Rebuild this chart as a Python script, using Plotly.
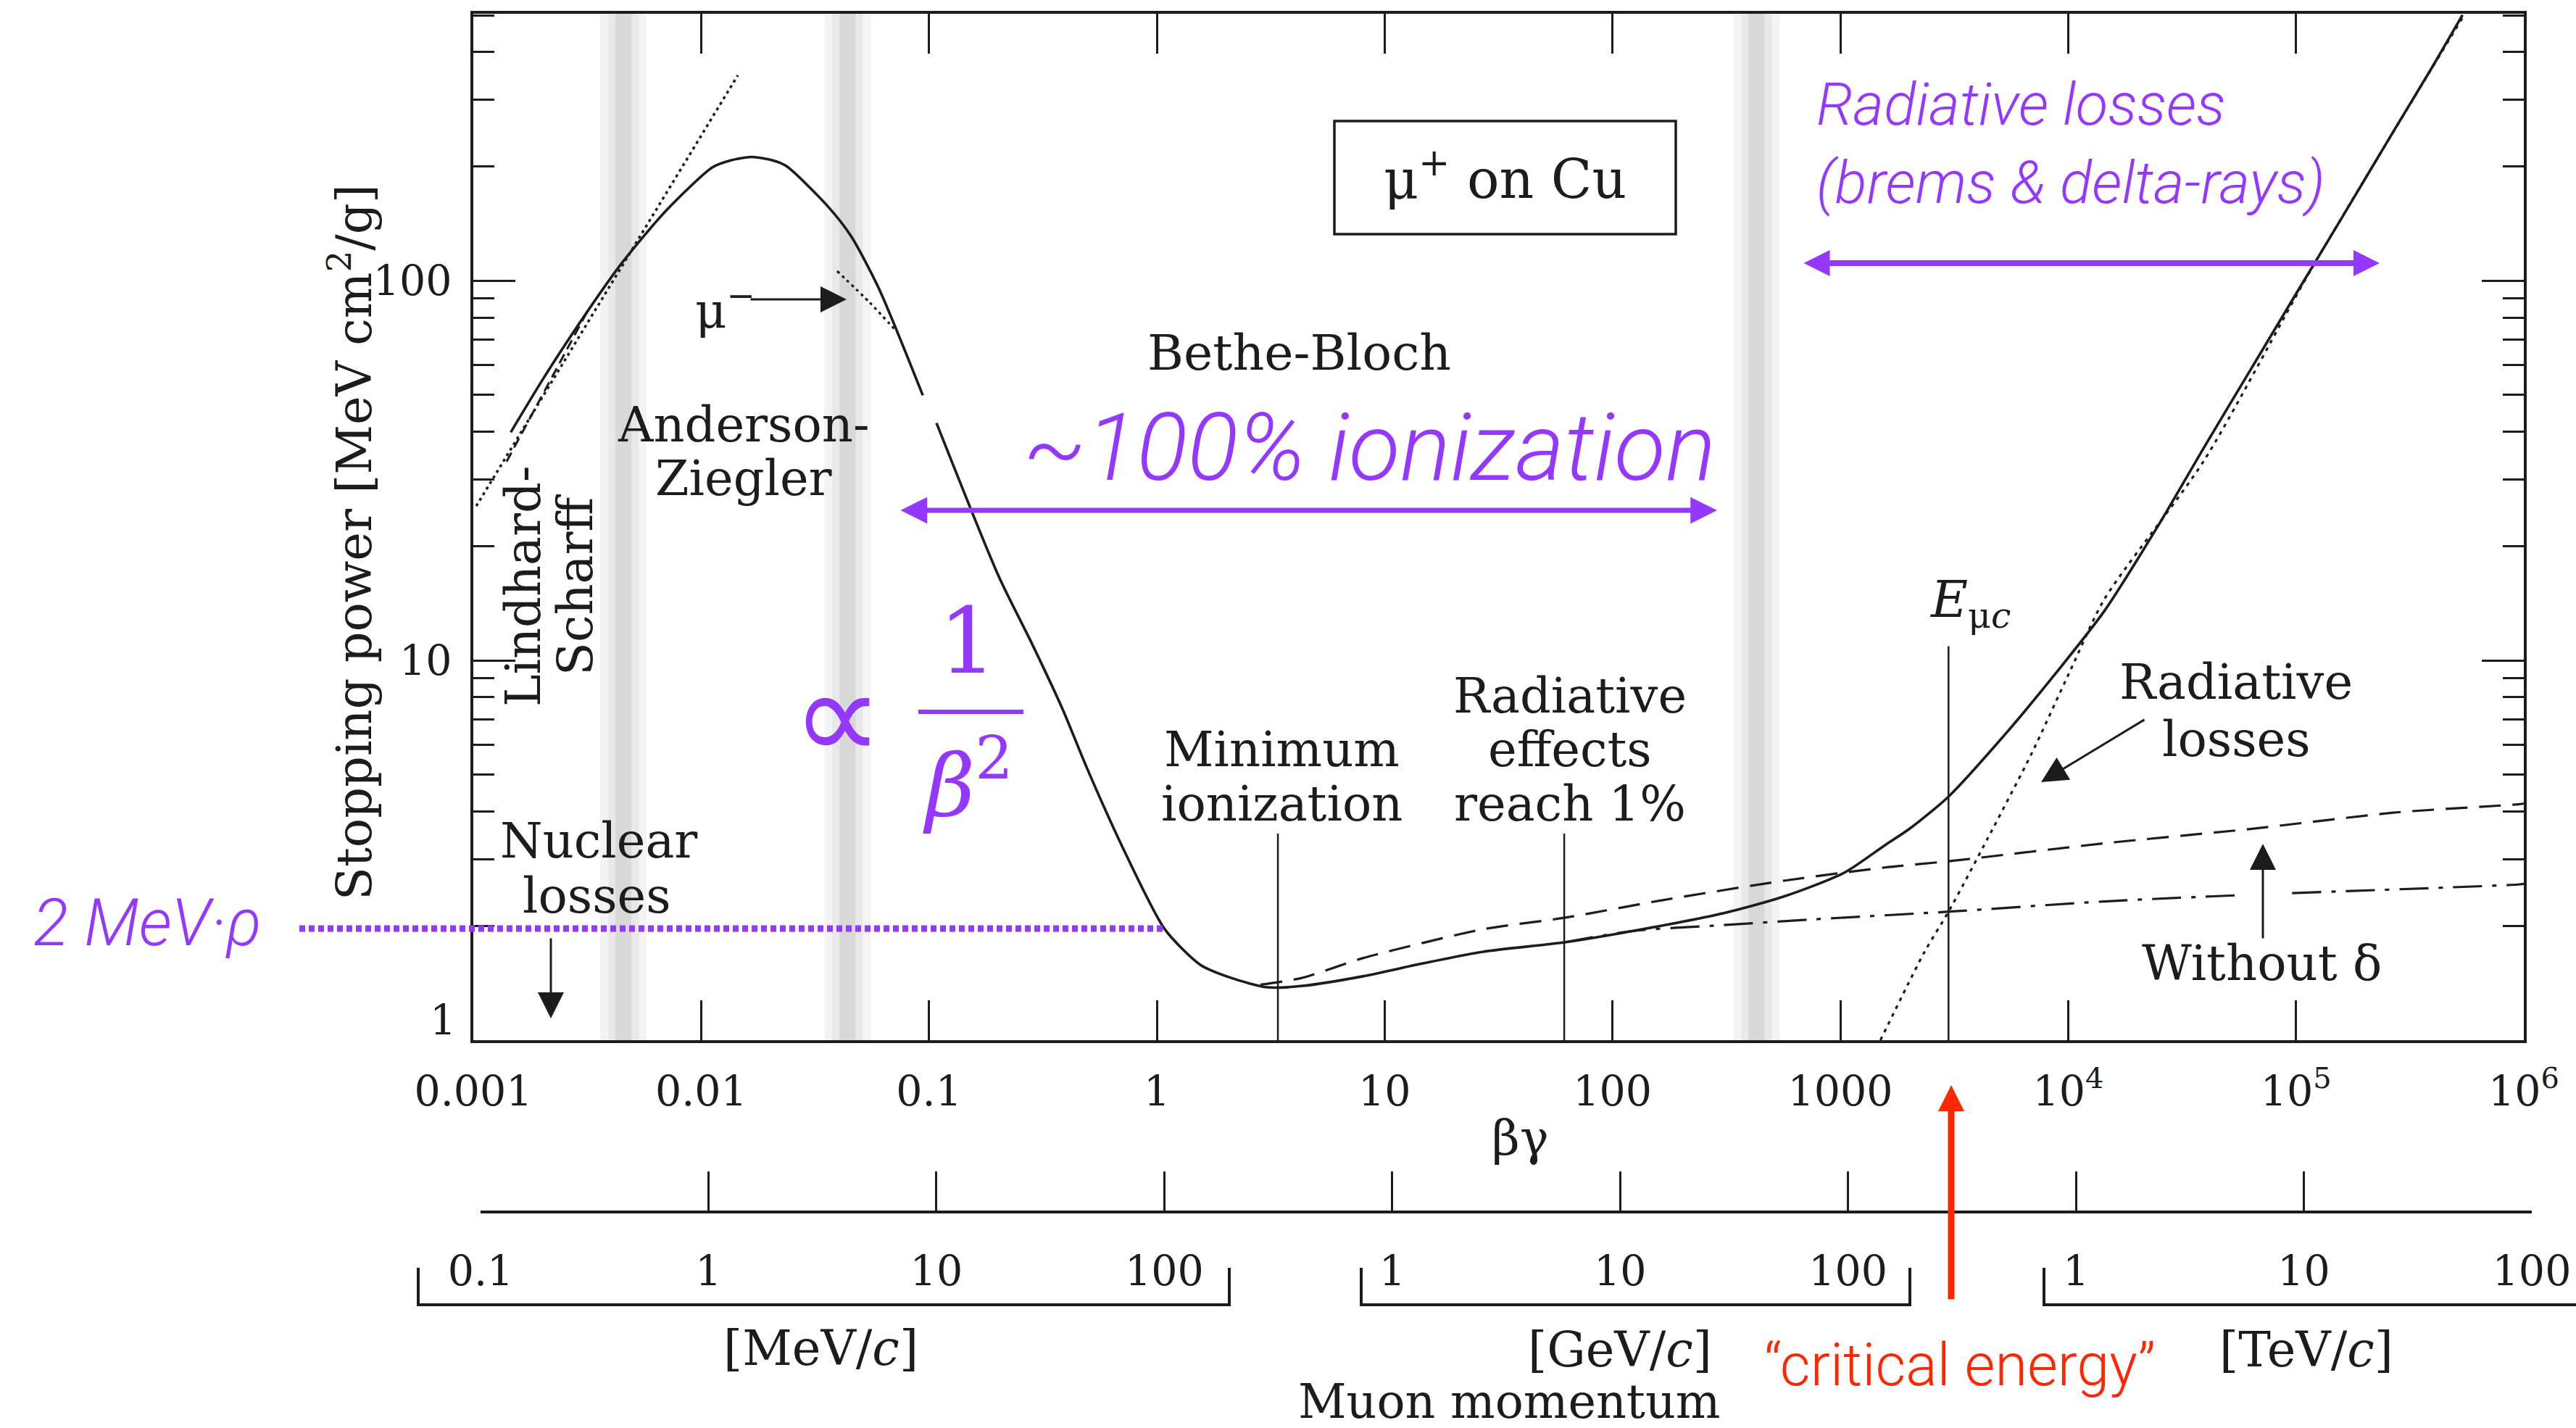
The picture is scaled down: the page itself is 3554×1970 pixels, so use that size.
import plotly.graph_objects as go

# ---------------- data ----------------
# total stopping power, Anderson-Ziegler branch (beta*gamma, MeV cm^2/g)
az_bg = [0.00146, 0.00200, 0.00275, 0.00440, 0.00702, 0.01122, 0.01349, 0.01667,
         0.02061, 0.02366, 0.03597, 0.04550, 0.06012, 0.09397]
az_s = [39.9, 54.5, 73.2, 109.6, 153, 199, 207.5, 211.8, 207.5, 200.4, 157, 131, 95.7, 49.9]

# total stopping power, Bethe-Bloch + radiative branch
bb_bg = [0.1079, 0.2028, 0.2838, 0.3864, 0.494, 0.7096, 1.084, 1.552, 2.113, 3.048, 4.365,
         8.017, 14.72, 27.04, 61.4, 123.3, 307.6, 565, 1040, 1567, 2009, 2985, 5395, 8831,
         14420, 25120, 39810, 63100, 100000, 158500, 251200, 398100, 538300]
bb_s = [42.2, 16.6, 11.04, 7.43, 5.2, 3.21, 1.96, 1.58, 1.46, 1.378, 1.39,
        1.473, 1.593, 1.71, 1.81, 1.94, 2.16, 2.39, 2.76, 3.26, 3.60, 4.38, 6.48, 9.26,
        13.5, 22.9, 36.7, 58.2, 92.3, 146, 232, 367, 501]

# ionization without density-effect correction (dashed)
nod_bg = [2.85, 4.365, 8.017, 27.04, 61.4, 167.5, 565, 1567, 2985, 14420, 63100, 276100, 944000, 1000000]
nod_s = [1.40, 1.46, 1.644, 1.96, 2.10, 2.34, 2.63, 2.85, 2.96, 3.30, 3.60, 3.98, 4.18, 4.20]

# ionization only (dash-dot)
ion_bg = [61.4, 123.3, 307.6, 753, 2985, 14420, 57150, None, 96150, 944000, 1000000]
ion_s = [1.81, 1.94, 2.01, 2.08, 2.18, 2.32, 2.41, None, 2.44, 2.57, 2.58]

# radiative losses (dotted)
rad_bg = [1500, 2344, 2985, 4436, 6887, 10230, 14420, 39360, 116400, 538300]
rad_s = [1.0, 1.71, 2.18, 3.40, 5.66, 9.42, 14.5, 33.5, 107, 493]

# Lindhard-Scharff (dotted), short low-energy dashed piece, mu- (dotted)
ls_bg = [0.00103, 0.01449]
ls_s = [25.5, 347.5]
lo_bg = [0.0014, 0.0032]
lo_s = [33.4, 84.0]
mum_bg = [0.03954, 0.05495, 0.07261]
mum_s = [106.0, 87.6, 73.2]

# vertical marker lines: minimum ionization, radiative 1%, critical energy
mark_bg = [3.40, 61.4, 2985]
mark_top = [3.50, 3.50, 10.9]

# grey transition bands
band_bg = [0.00456, 0.0439, 429]

# axes
bg_ticks = [0.001, 0.01, 0.1, 1, 10, 100, 1000, 1e4, 1e5, 1e6]
bg_labels = ["0.001", "0.01", "0.1", "1", "10", "100", "1000",
             "10<sup>4</sup>", "10<sup>5</sup>", "10<sup>6</sup>"]
y_ticks = [1, 10, 100]
y_labels = ["", "10", "100"]
y_minor = [2, 3, 4, 5, 6, 7, 8, 9, 20, 30, 40, 50, 60, 70, 80, 90, 200, 300, 400, 500]
p_ticks = [0.1, 1, 10, 100, 1e3, 1e4, 1e5, 1e6, 1e7, 1e8]   # MeV/c
p_labels = ["0.1", "1", "10", "100", "1", "10", "100", "1", "10", "100"]

# ---------------- layout geometry ----------------
W, H = 3554, 1970
ML, MR, MT, MB = 653, 61, 19, 0
PW = W - ML - MR
PH = H - MT - MB


def px(x):
    return (x - ML) / PW


def py(y):
    return (H - MB - y) / PH


INK = "#1c1c1c"
PURPLE = "#9437FF"
RED = "#FF2600"
SERIF = "DejaVu Serif"
SANS = "Roboto"
NUMSIZE = 57

fig = go.Figure()

# grey bands
for v in band_bg:
    for wdt, col in [(64, "#f3f3f3"), (42, "#e8e8e8"), (22, "#d8d8d8")]:
        fig.add_trace(go.Scatter(x=[v, v], y=[1, 520], mode="lines",
                                 line=dict(color=col, width=wdt), hoverinfo="skip"))

# vertical marker lines
for v, t in zip(mark_bg, mark_top):
    fig.add_trace(go.Scatter(x=[v, v], y=[1, t], mode="lines",
                             line=dict(color=INK, width=2.5), hoverinfo="skip"))

SM = dict(shape="spline", smoothing=0.7)

# curves
fig.add_trace(go.Scatter(x=ls_bg, y=ls_s, mode="lines",
                         line=dict(color=INK, width=3.5, dash="4px,5px")))
fig.add_trace(go.Scatter(x=lo_bg, y=lo_s, mode="lines",
                         line=dict(color=INK, width=3, dash="14px,8px")))
fig.add_trace(go.Scatter(x=mum_bg, y=mum_s, mode="lines",
                         line=dict(color=INK, width=3.2, dash="4px,5px", **SM)))
fig.add_trace(go.Scatter(x=nod_bg, y=nod_s, mode="lines",
                         line=dict(color=INK, width=3.2, dash="30px,16px", **SM)))
fig.add_trace(go.Scatter(x=ion_bg, y=ion_s, mode="lines", connectgaps=False,
                         line=dict(color=INK, width=3.2, dash="40px,14px,6px,14px", **SM)))
fig.add_trace(go.Scatter(x=rad_bg, y=rad_s, mode="lines",
                         line=dict(color=INK, width=3.2, dash="5px,7px", **SM)))
fig.add_trace(go.Scatter(x=az_bg, y=az_s, mode="lines",
                         line=dict(color=INK, width=3.6, **SM)))
fig.add_trace(go.Scatter(x=bb_bg, y=bb_s, mode="lines",
                         line=dict(color=INK, width=3.6, **SM)))

# dummy trace activating the momentum axis
fig.add_trace(go.Scatter(x=[1, 10], y=[1, 1], xaxis="x2", yaxis="y", mode="lines",
                         line=dict(width=0), opacity=0, hoverinfo="skip"))

axis_common = dict(showline=True, linewidth=4, linecolor=INK, showgrid=False,
                   zeroline=False, tickcolor=INK, tickwidth=3)
numfont = dict(family=SERIF, size=NUMSIZE, color=INK)

fig.update_layout(
    width=W, height=H,
    margin=dict(l=ML, r=MR, t=MT, b=MB, pad=0, autoexpand=False),
    paper_bgcolor="white", plot_bgcolor="rgba(0,0,0,0)",
    showlegend=False,
    xaxis=dict(type="log", range=[-3, 6], domain=[0, px(3482)], anchor="y",
               mirror="ticks", ticks="inside", ticklen=55,
               tickmode="array", tickvals=bg_ticks, ticktext=bg_labels,
               tickfont=numfont, ticklabelstandoff=18, **axis_common),
    yaxis=dict(type="log", range=[0, 2.703], domain=[py(1435), 1], anchor="x",
               mirror="ticks", ticks="inside", ticklen=58,
               tickmode="array", tickvals=y_ticks, ticktext=y_labels,
               tickfont=numfont, ticklabelstandoff=14,
               minor=dict(ticks="inside", ticklen=29, tickwidth=3, tickcolor=INK,
                          tickmode="array", tickvals=y_minor, showgrid=False),
               **axis_common),
    xaxis2=dict(type="log", range=[-1, 8], domain=[px(663), 1], anchor="free",
                position=py(1672), ticks="inside", ticklen=54,
                tickmode="array", tickvals=p_ticks, ticktext=p_labels,
                tickfont=numfont, ticklabelstandoff=31, **axis_common),
)


def txt(s, x, y, size, family=SERIF, color=INK, xanchor="center", angle=0,
        weight=None, style=None):
    f = dict(family=family, size=size, color=color)
    if weight is not None:
        f["weight"] = weight
    if style is not None:
        f["style"] = style
    return dict(text=s, x=px(x), y=py(y), xref="paper", yref="paper",
                xanchor=xanchor, yanchor="middle", showarrow=False, font=f,
                textangle=angle, borderpad=0)


def arrow(tip, tail, color, width, head, size, side="end"):
    return dict(text="", x=px(tip[0]), y=py(tip[1]), xref="paper", yref="paper",
                ax=tail[0] - tip[0], ay=tail[1] - tip[1], axref="pixel", ayref="pixel",
                showarrow=True, arrowhead=head, arrowsize=size, arrowwidth=width,
                arrowcolor=color, arrowside=side, startarrowhead=head,
                startarrowsize=size)


ann = []
# axis titles and labels
ann.append(txt("Stopping power [MeV cm<sup>2</sup>/g]", 484, 748, 67, angle=-90))
ann.append(txt("βγ", 2097, 1570, 67))
ann.append(txt("1", 611, 1407, NUMSIZE))
ann.append(txt("[MeV/<i>c</i>]", 1132, 1860, 67))
ann.append(txt("[GeV/<i>c</i>]", 2235, 1862, 67))
ann.append(txt("[TeV/<i>c</i>]", 3182, 1862, 67))
ann.append(txt("Muon momentum", 2082, 1933, 65))

# black labels
ann.append(txt("μ<sup>+</sup> on Cu", 2076, 242, 74))
ann.append(txt("Bethe-Bloch", 1792, 486, 68))
ann.append(txt("Anderson-", 1026, 586, 67))
ann.append(txt("Ziegler", 1026, 660, 67))
ann.append(txt("Lindhard-", 722, 809, 67, angle=-90))
ann.append(txt("Scharff", 794, 807, 67, angle=-90))
ann.append(txt("Minimum", 1768, 1034, 67))
ann.append(txt("ionization", 1768, 1109, 67))
ann.append(txt("Radiative", 2166, 960, 67))
ann.append(txt("effects", 2166, 1034, 67))
ann.append(txt("reach 1%", 2166, 1109, 67))
ann.append(txt("Radiative", 3085, 941, 67))
ann.append(txt("losses", 3085, 1020, 67))
ann.append(txt("Without δ", 3120, 1329, 67))
ann.append(txt("Nuclear", 826, 1160, 67))
ann.append(txt("losses", 823, 1236, 67))
ann.append(txt("μ<sup>−</sup>", 1000, 424, 67))
ann.append(txt("<i>E</i><sub>μ<i>c</i></sub>", 2718, 832, 70))

# purple annotations
ann.append(txt("Radiative losses", 2505, 144, 82, family=SANS, color=PURPLE,
               xanchor="left", weight=300, style="italic"))
ann.append(txt("(brems & delta-rays)", 2505, 252, 82, family=SANS, color=PURPLE,
               xanchor="left", weight=300, style="italic"))
ann.append(txt("~100% ionization", 1889, 617, 130, family=SANS, color=PURPLE,
               weight=300, style="italic"))
ann.append(txt("2 MeV·ρ", 204, 1273, 90, family=SANS, color=PURPLE,
               weight=300, style="italic"))
ann.append(txt("∝", 1155, 988, 175, family="DejaVu Sans", color=PURPLE))
ann.append(txt("1", 1335, 884, 126, color=PURPLE))
ann.append(txt("<i>β</i><sup>2</sup>", 1335, 1076, 118, color=PURPLE))
ann.append(txt("“critical energy”", 2704, 1883, 81, family=SANS, color=RED, weight=300))

# arrows
ann.append(arrow((1168, 413), (1034, 413), INK, 3, 2, 2.4))
ann.append(arrow((2816, 1079), (2960, 992), INK, 3, 2, 2.4))
ann.append(arrow((3122, 1164), (3122, 1296), INK, 3, 2, 2.4))
ann.append(arrow((760, 1405), (760, 1293), INK, 3, 2, 2.4))
ann.append(arrow((2692, 1497), (2692, 1794), RED, 9, 2, 0.8))
ann.append(arrow((2369, 704), (1241, 704), PURPLE, 7, 2, 1.05, side="end+start"))
ann.append(arrow((3283, 363), (2487, 363), PURPLE, 8, 2, 0.9, side="end+start"))

shapes = []
# box around the projectile/target label
shapes.append(dict(type="rect", xref="paper", yref="paper",
                   x0=px(1841), x1=px(2312), y0=py(323), y1=py(167),
                   line=dict(color=INK, width=3.5)))
# fraction bar of 1/beta^2
shapes.append(dict(type="line", xref="paper", yref="paper",
                   x0=px(1267), x1=px(1412), y0=py(982), y1=py(982),
                   line=dict(color=PURPLE, width=6)))
# 2 MeV guide line
shapes.append(dict(type="line", xref="paper", yref="paper",
                   x0=px(413), x1=px(1605), y0=py(1281), y1=py(1281),
                   line=dict(color=PURPLE, width=9, dash="8px,5px")))
# momentum unit brackets
for x0, x1, closed in [(577, 1696, True), (1878, 2635, True), (2820, 3600, False)]:
    path = f"M{px(x0)},{py(1749)} L{px(x0)},{py(1800)} L{px(x1)},{py(1800)}"
    if closed:
        path += f" L{px(x1)},{py(1749)}"
    shapes.append(dict(type="path", xref="paper", yref="paper", path=path,
                       line=dict(color=INK, width=4)))

fig.update_layout(annotations=ann, shapes=shapes)

fig.write_html("out.html", config={"displayModeBar": False},
               post_script="document.body.style.margin='0';document.body.style.overflow='hidden';")
